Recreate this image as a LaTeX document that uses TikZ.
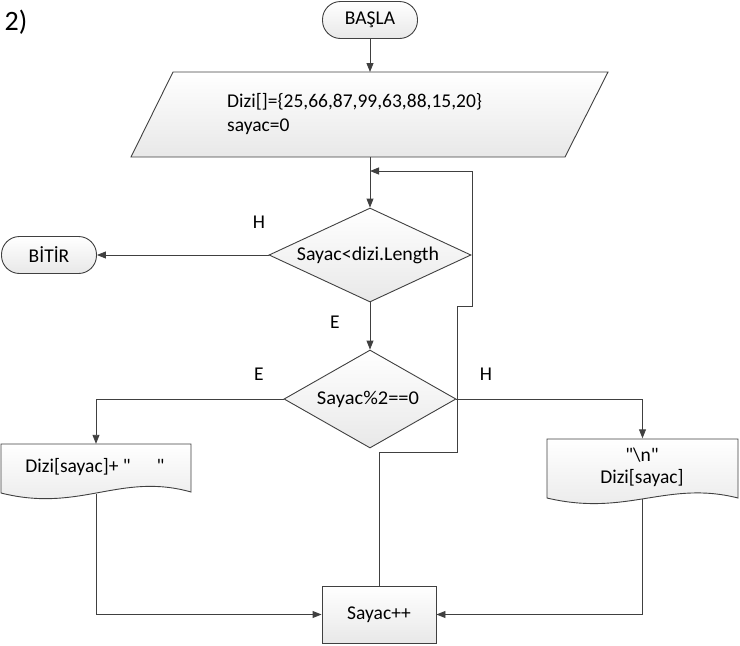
\documentclass[tikz,border=0pt]{standalone}
\usepackage{fontspec}
\setmainfont{Carlito}[Ligatures=TeXOff]
\usetikzlibrary{arrows.meta,shapes.geometric}
\begin{document}
\begin{tikzpicture}[x=1pt,y=-1pt,
 every node/.style={font=\fontsize{19.5}{22}\selectfont, text=black},
 ln/.style={draw=black!75, line width=0.9pt},
 arr/.style={ln, -{Triangle[length=9pt,width=7pt]}},
 fillg/.style={top color=white, bottom color=black!9},
 term/.style={ln, fillg, rounded corners=18pt, minimum width=95pt, minimum height=37pt, inner sep=0pt},
 dec/.style={diamond, ln, fillg, inner sep=0pt},
 procbox/.style={rectangle, ln, fillg, minimum width=114pt, minimum height=57pt, inner sep=0pt},
 ghost/.style={rectangle, inner sep=0pt},
 lbl/.style={inner sep=0pt}
]
\useasboundingbox (0,0) rectangle (740,646);

\node[lbl, font=\fontsize{28}{30}\selectfont] (num) at (16,22) {2)};

% start
\node[term] (start) at (370,20) {BAŞLA};

% input parallelogram
\path[ln, fillg] (173,72) -- (608,72) -- (565,157) -- (131,157) -- cycle;
\node[ghost, align=left, anchor=west] (init) at (227,114.5) {Dizi[]=\{25,66,87,99,63,88,15,20\}\\[2pt]sayac=0};
\coordinate (paT) at (370,72);
\coordinate (paB) at (370,157);
\draw[arr] (start.south) -- (paT);

% decision 1
\node[dec, minimum width=202pt, minimum height=94pt] (d1) at (370,255) {};
\node[lbl] (d1t) at (368,255) {\scalebox{1.02}[1]{Sayac<dizi.Length}};
\draw[arr] (paB) -- (d1.north);
\coordinate (join) at (370,171);

% end
\node[term] (end) at (49,255) {BİTİR};
\draw[arr] (d1.west) -- (end.east);
\node[lbl] (h1) at (259,222) {H};
\node[lbl] (e1) at (335,322) {E};

% decision 2
\node[dec, minimum width=172pt, minimum height=98pt] (d2) at (370,399) {};
\node[lbl] (d2t) at (368,399) {\scalebox{1.05}[1]{Sayac\%2==0}};
\draw[arr] (d1.south) -- (d2.north);
\node[lbl] (e2) at (259,374) {E};
\node[lbl] (h2) at (486,374) {H};

% left document
\path[ln, fillg] (1,444) -- (191,444) -- (191,492) .. controls (120,472) and (80,513) .. (1,493) -- cycle;
\node[ghost, minimum width=190pt, minimum height=50pt] (ldoc) at (96,469) {};
\node[lbl] (ldoct) at (95,467) {Dizi[sayac]+ "\hspace{26pt}"};

% right document
\path[ln, fillg] (547,439) -- (738,439) -- (738,498) .. controls (667,480) and (627,517) .. (547,498) -- cycle;
\node[ghost, minimum width=191pt, minimum height=60pt] (rdoc) at (642.5,468.5) {};
\node[lbl, align=center] (rdoct) at (642,467) {"\textbackslash n"\\Dizi[sayac]};

\draw[arr] (d2.west) -| (ldoc.north);
\draw[arr] (d2.east) -| (rdoc.north);

% increment
\node[procbox] (inc) at (379,614.5) {Sayac++};
\draw[arr] (ldoc.south) |- (inc.west);
\draw[arr] (rdoc.south) |- (inc.east);

% loop back
\coordinate (l1) at (379,452);
\coordinate (l2) at (457,452);
\coordinate (l3) at (457,306);
\coordinate (l4) at (472,306);
\coordinate (l5) at (472,171);
\draw[arr] (inc.north) -- (l1) -- (l2) -- (l3) -- (l4) -- (l5) -- (join);
\end{tikzpicture}
\end{document}
